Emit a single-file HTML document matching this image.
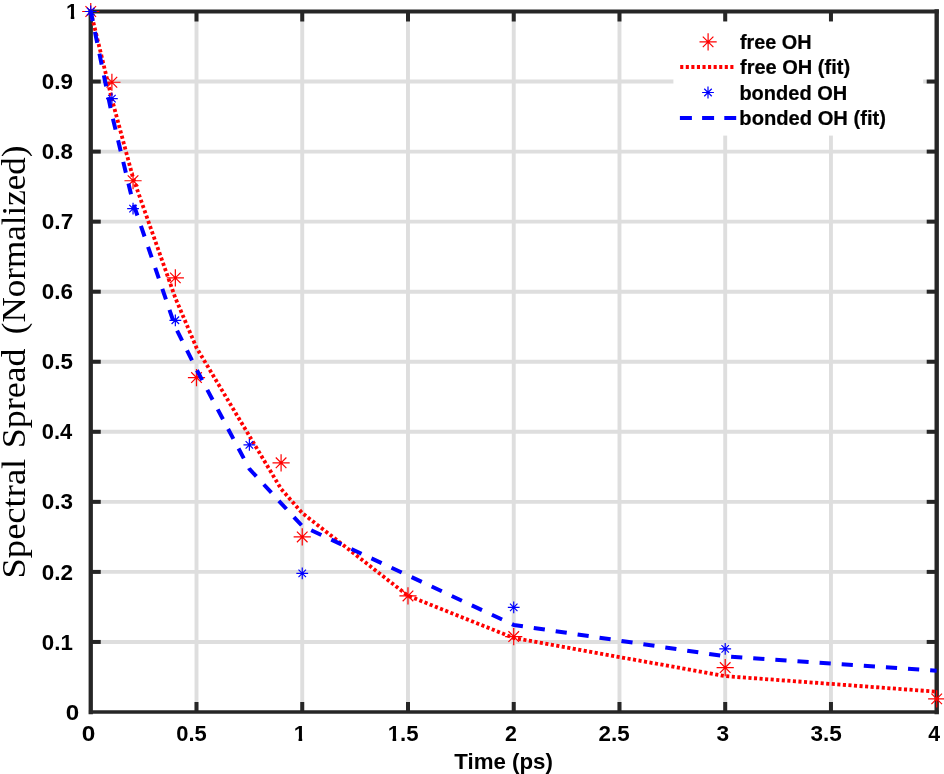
<!DOCTYPE html>
<html lang="en"><head><meta charset="utf-8"><title>Spectral Spread vs Time</title>
<style>html,body{margin:0;padding:0;background:#fff;}svg{display:block;}.sb{font-family:"Liberation Sans",sans-serif;font-weight:bold;fill:#000;}.lg{stroke:#000;stroke-width:0.22px;stroke-linejoin:round;}.sr{font-family:"Liberation Serif",serif;fill:#000;}</style></head><body>
<svg width="944" height="774" viewBox="0 0 944 774">
<rect x="0" y="0" width="944" height="774" fill="#fff"/>
<g stroke="#dedede" stroke-width="3.90" fill="none">
<line x1="196.49" y1="11.50" x2="196.49" y2="712.00"/>
<line x1="302.24" y1="11.50" x2="302.24" y2="712.00"/>
<line x1="407.98" y1="11.50" x2="407.98" y2="712.00"/>
<line x1="513.73" y1="11.50" x2="513.73" y2="712.00"/>
<line x1="619.47" y1="11.50" x2="619.47" y2="712.00"/>
<line x1="725.21" y1="11.50" x2="725.21" y2="712.00"/>
<line x1="830.96" y1="11.50" x2="830.96" y2="712.00"/>
<line x1="90.75" y1="641.95" x2="936.70" y2="641.95"/>
<line x1="90.75" y1="571.90" x2="936.70" y2="571.90"/>
<line x1="90.75" y1="501.85" x2="936.70" y2="501.85"/>
<line x1="90.75" y1="431.80" x2="936.70" y2="431.80"/>
<line x1="90.75" y1="361.75" x2="936.70" y2="361.75"/>
<line x1="90.75" y1="291.70" x2="936.70" y2="291.70"/>
<line x1="90.75" y1="221.65" x2="936.70" y2="221.65"/>
<line x1="90.75" y1="151.60" x2="936.70" y2="151.60"/>
<line x1="90.75" y1="81.55" x2="936.70" y2="81.55"/>
</g>
<g stroke="#262626" stroke-width="4.00" fill="none">
<line x1="196.49" y1="712.00" x2="196.49" y2="702.00"/>
<line x1="196.49" y1="11.50" x2="196.49" y2="21.50"/>
<line x1="302.24" y1="712.00" x2="302.24" y2="702.00"/>
<line x1="302.24" y1="11.50" x2="302.24" y2="21.50"/>
<line x1="407.98" y1="712.00" x2="407.98" y2="702.00"/>
<line x1="407.98" y1="11.50" x2="407.98" y2="21.50"/>
<line x1="513.73" y1="712.00" x2="513.73" y2="702.00"/>
<line x1="513.73" y1="11.50" x2="513.73" y2="21.50"/>
<line x1="619.47" y1="712.00" x2="619.47" y2="702.00"/>
<line x1="619.47" y1="11.50" x2="619.47" y2="21.50"/>
<line x1="725.21" y1="712.00" x2="725.21" y2="702.00"/>
<line x1="725.21" y1="11.50" x2="725.21" y2="21.50"/>
<line x1="830.96" y1="712.00" x2="830.96" y2="702.00"/>
<line x1="830.96" y1="11.50" x2="830.96" y2="21.50"/>
<line x1="90.75" y1="641.95" x2="100.75" y2="641.95"/>
<line x1="936.70" y1="641.95" x2="926.70" y2="641.95"/>
<line x1="90.75" y1="571.90" x2="100.75" y2="571.90"/>
<line x1="936.70" y1="571.90" x2="926.70" y2="571.90"/>
<line x1="90.75" y1="501.85" x2="100.75" y2="501.85"/>
<line x1="936.70" y1="501.85" x2="926.70" y2="501.85"/>
<line x1="90.75" y1="431.80" x2="100.75" y2="431.80"/>
<line x1="936.70" y1="431.80" x2="926.70" y2="431.80"/>
<line x1="90.75" y1="361.75" x2="100.75" y2="361.75"/>
<line x1="936.70" y1="361.75" x2="926.70" y2="361.75"/>
<line x1="90.75" y1="291.70" x2="100.75" y2="291.70"/>
<line x1="936.70" y1="291.70" x2="926.70" y2="291.70"/>
<line x1="90.75" y1="221.65" x2="100.75" y2="221.65"/>
<line x1="936.70" y1="221.65" x2="926.70" y2="221.65"/>
<line x1="90.75" y1="151.60" x2="100.75" y2="151.60"/>
<line x1="936.70" y1="151.60" x2="926.70" y2="151.60"/>
<line x1="90.75" y1="81.55" x2="100.75" y2="81.55"/>
<line x1="936.70" y1="81.55" x2="926.70" y2="81.55"/>
</g>
<rect x="673.4" y="21.8" width="249.8" height="113.8" fill="#fff"/>
<g stroke="#262626" fill="none" stroke-linecap="square">
<line x1="90.75" y1="11.50" x2="936.70" y2="11.50" stroke-width="4.2"/>
<line x1="90.75" y1="712.00" x2="936.70" y2="712.00" stroke-width="3.7"/>
<line x1="90.75" y1="11.50" x2="90.75" y2="712.00" stroke-width="4.3"/>
<line x1="936.70" y1="11.50" x2="936.70" y2="712.00" stroke-width="4.4"/>
</g>
<path d="M82.15 11.50H99.35M90.75 2.90V20.10M85.45 6.20L96.05 16.80M85.45 16.80L96.05 6.20" stroke="#ff0000" stroke-width="1.20" fill="none"/>
<path d="M103.30 82.25H120.50M111.90 73.65V90.85M106.60 76.95L117.20 87.55M106.60 87.55L117.20 76.95" stroke="#ff0000" stroke-width="1.20" fill="none"/>
<path d="M124.45 180.74H141.65M133.05 172.14V189.34M127.74 175.44L138.35 186.04M127.74 186.04L138.35 175.44" stroke="#ff0000" stroke-width="1.20" fill="none"/>
<path d="M166.75 277.90H183.95M175.35 269.30V286.50M170.04 272.60L180.65 283.20M170.04 283.20L180.65 272.60" stroke="#ff0000" stroke-width="1.20" fill="none"/>
<path d="M187.89 377.58H205.09M196.49 368.98V386.18M191.19 372.28L201.80 382.88M191.19 382.88L201.80 372.28" stroke="#ff0000" stroke-width="1.20" fill="none"/>
<path d="M272.49 462.83H289.69M281.09 454.23V471.43M275.79 457.53L286.39 468.14M275.79 468.14L286.39 457.53" stroke="#ff0000" stroke-width="1.20" fill="none"/>
<path d="M293.64 536.95H310.84M302.24 528.35V545.55M296.93 531.64L307.54 542.25M296.93 542.25L307.54 531.64" stroke="#ff0000" stroke-width="1.20" fill="none"/>
<path d="M399.38 595.93H416.58M407.98 587.33V604.53M402.68 590.62L413.28 601.23M402.68 601.23L413.28 590.62" stroke="#ff0000" stroke-width="1.20" fill="none"/>
<path d="M505.12 636.56H522.33M513.73 627.96V645.16M508.42 631.25L519.03 641.86M508.42 641.86L519.03 631.25" stroke="#ff0000" stroke-width="1.20" fill="none"/>
<path d="M716.61 667.59H733.81M725.21 658.99V676.19M719.91 662.28L730.52 672.89M719.91 672.89L730.52 662.28" stroke="#ff0000" stroke-width="1.20" fill="none"/>
<path d="M928.10 698.90H945.30M936.70 690.30V707.50M931.40 693.60L942.00 704.20M931.40 704.20L942.00 693.60" stroke="#ff0000" stroke-width="1.20" fill="none"/>
<polyline points="90.75,11.50 111.90,99.06 133.05,177.87 175.35,298.00 196.49,347.74 281.09,488.89 302.24,513.06 407.98,595.72 513.73,637.96 725.21,676.13 936.70,691.69" fill="none" stroke="#ff0000" stroke-width="3.8" stroke-dasharray="3.1 2.47" stroke-linejoin="round"/>
<path d="M84.85 11.50H96.65M90.75 5.60V17.40M87.00 7.75L94.50 15.25M87.00 15.25L94.50 7.75" stroke="#0000ff" stroke-width="1.20" fill="none"/>
<path d="M106.00 98.57H117.80M111.90 92.67V104.47M108.15 94.82L115.65 102.32M108.15 102.32L115.65 94.82" stroke="#0000ff" stroke-width="1.20" fill="none"/>
<path d="M127.15 208.62H138.95M133.05 202.72V214.52M129.30 204.87L136.80 212.37M129.30 212.37L136.80 204.87" stroke="#0000ff" stroke-width="1.20" fill="none"/>
<path d="M169.45 320.28H181.25M175.35 314.38V326.18M171.60 316.53L179.09 324.03M171.60 324.03L179.09 316.53" stroke="#0000ff" stroke-width="1.20" fill="none"/>
<path d="M243.47 444.90H255.27M249.37 439.00V450.80M245.62 441.15L253.11 448.65M245.62 448.65L253.11 441.15" stroke="#0000ff" stroke-width="1.20" fill="none"/>
<path d="M296.34 573.30H308.14M302.24 567.40V579.20M298.49 569.55L305.99 577.05M298.49 577.05L305.99 569.55" stroke="#0000ff" stroke-width="1.20" fill="none"/>
<path d="M507.83 607.35H519.62M513.73 601.45V613.25M509.98 603.60L517.47 611.09M509.98 611.09L517.47 603.60" stroke="#0000ff" stroke-width="1.20" fill="none"/>
<path d="M719.31 648.88H731.11M725.21 642.98V654.78M721.46 645.14L728.96 652.63M721.46 652.63L728.96 645.14" stroke="#0000ff" stroke-width="1.20" fill="none"/>
<polyline points="90.75,11.50 111.90,114.47 133.05,202.74 175.35,327.08 196.49,369.46 249.37,468.93 302.24,526.02 513.73,624.93 725.21,656.31 936.70,670.67" fill="none" stroke="#0000ff" stroke-width="4.0" stroke-dasharray="11.2 10.964" stroke-dashoffset="1.3" stroke-linejoin="round"/>
<path d="M699.50 41.90H716.70M708.10 33.30V50.50M702.80 36.60L713.40 47.20M702.80 47.20L713.40 36.60" stroke="#ff0000" stroke-width="1.20" fill="none"/>
<line x1="680.2" y1="66.9" x2="735.6" y2="66.9" stroke="#ff0000" stroke-width="4.0" stroke-dasharray="3.1 2.47"/>
<path d="M702.10 92.50H713.90M708.00 86.60V98.40M704.25 88.75L711.75 96.25M704.25 96.25L711.75 88.75" stroke="#0000ff" stroke-width="1.20" fill="none"/>
<line x1="679.9" y1="117.9" x2="736.2" y2="117.9" stroke="#0000ff" stroke-width="4.0" stroke-dasharray="12 10.2"/>
<text class="sb" font-size="22.20" transform="translate(41.82 649.55) scale(1.0046 1)">0.1</text>
<text class="sb" font-size="22.20" transform="translate(41.81 579.50) scale(1.0139 1)">0.2</text>
<text class="sb" font-size="22.20" transform="translate(41.81 509.45) scale(1.0109 1)">0.3</text>
<text class="sb" font-size="22.20" transform="translate(41.83 439.40) scale(0.9878 1)">0.4</text>
<text class="sb" font-size="22.20" transform="translate(41.82 369.35) scale(1.0046 1)">0.5</text>
<text class="sb" font-size="22.20" transform="translate(41.81 299.30) scale(1.0109 1)">0.6</text>
<text class="sb" font-size="22.20" transform="translate(41.81 229.25) scale(1.0170 1)">0.7</text>
<text class="sb" font-size="22.20" transform="translate(41.82 159.20) scale(1.0068 1)">0.8</text>
<text class="sb" font-size="22.20" transform="translate(41.81 89.15) scale(1.0117 1)">0.9</text>
<text class="sb" font-size="22.20" transform="translate(66.03 19.00) scale(0.9687 1)" clip-path="url(#c222)">1</text>
<text class="sb" font-size="22.20" transform="translate(65.74 719.90) scale(1.0892 1)">0</text>
<text class="sb" font-size="22.20" transform="translate(81.74 740.70) scale(1.0987 1)">0</text>
<text class="sb" font-size="22.20" transform="translate(176.23 740.70) scale(0.9876 1)">0.5</text>
<text class="sb" font-size="22.20" transform="translate(293.68 740.70) scale(0.9985 1)" clip-path="url(#c222)">1</text>
<text class="sb" font-size="22.20" transform="translate(387.68 740.70) scale(0.9991 1)" clip-path="url(#c222)">1.5</text>
<text class="sb" font-size="22.20" transform="translate(504.96 740.70) scale(0.9637 1)">2</text>
<text class="sb" font-size="22.20" transform="translate(598.62 740.70) scale(1.0077 1)">2.5</text>
<text class="sb" font-size="22.20" transform="translate(716.48 740.70) scale(1.0240 1)">3</text>
<text class="sb" font-size="22.20" transform="translate(810.48 740.70) scale(1.0157 1)">3.5</text>
<text class="sb" font-size="22.20" transform="translate(928.28 740.70) scale(0.9587 1)">4</text>
<text class="sb" font-size="22.00" transform="translate(454.25 769.00) scale(1.0141 1)">Time (ps)</text>
<text class="sb lg" font-size="19.80" transform="translate(739.96 49.20) scale(1.0021 1)">free OH</text>
<text class="sb lg" font-size="19.80" transform="translate(739.96 73.70) scale(1.0114 1)">free OH (fit)</text>
<text class="sb lg" font-size="19.80" transform="translate(739.38 100.00) scale(1.0111 1)">bonded OH</text>
<text class="sb lg" font-size="19.80" transform="translate(739.37 125.20) scale(1.0171 1)">bonded OH (fit)</text>
<text class="sr" font-size="33.50" transform="translate(25.20 578.45) rotate(-90) scale(1.0913 1)">Spectral</text>
<text class="sr" font-size="33.50" transform="translate(25.20 448.20) rotate(-90) scale(1.0711 1)">Spread</text>
<text class="sr" font-size="33.50" transform="translate(25.20 334.14) rotate(-90) scale(1.0457 1)">(Normalized)</text>
<clipPath id="c222"><rect x="-5" y="-40" width="200" height="36.98"/><rect x="4.88" y="-3.27" width="3.65" height="6"/><rect x="12.35" y="-3.27" width="200" height="12"/></clipPath>
</svg></body></html>
